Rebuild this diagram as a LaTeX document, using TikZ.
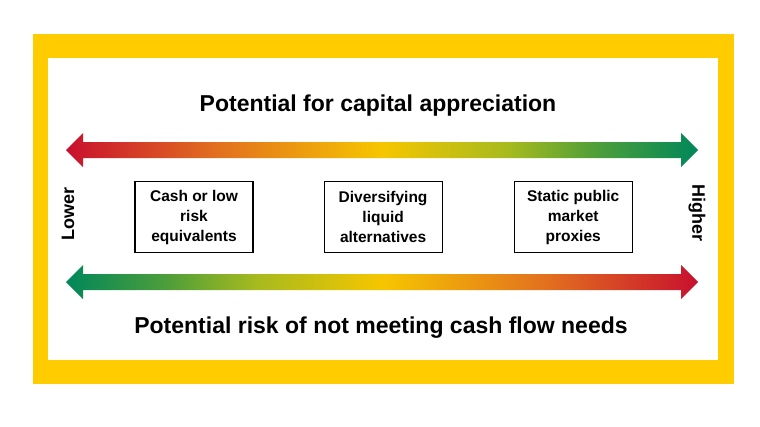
\documentclass[tikz,border=0pt]{standalone}
\usepackage{fontspec}
\setmainfont{Liberation Sans}
\usepackage{xcolor}
\usetikzlibrary{positioning,calc}

\definecolor{framegold}{HTML}{FFCC00}
\definecolor{arrred}{HTML}{C8102E}
\definecolor{arrorange}{HTML}{E2701F}
\definecolor{arryellow}{HTML}{F6C600}
\definecolor{arrolive}{HTML}{A6BA1E}
\definecolor{arrgreen}{HTML}{4E9E3A}
\definecolor{arrteal}{HTML}{00875A}

% gradients run over 25bp--75bp of the shading
\pgfdeclarehorizontalshading{gaingrad}{100bp}{color(0bp)=(arrred); color(25bp)=(arrred);
  color(37bp)=(arrorange); color(50bp)=(arryellow); color(60bp)=(arrolive);
  color(67bp)=(arrgreen); color(75bp)=(arrteal); color(100bp)=(arrteal)}
\pgfdeclarehorizontalshading{riskgrad}{100bp}{color(0bp)=(arrteal); color(25bp)=(arrteal);
  color(33bp)=(arrgreen); color(40bp)=(arrolive); color(50bp)=(arryellow);
  color(63bp)=(arrorange); color(75bp)=(arrred); color(100bp)=(arrred)}

\begin{document}
\begin{tikzpicture}[x=1pt, y=-1pt,
  option/.style={rectangle, draw=black, line width=1.1pt, minimum width=118pt,
    minimum height=71pt, inner sep=0pt, align=center,
    font=\fontsize{15.5}{20}\selectfont\bfseries},
  heading/.style={font=\fontsize{23}{28}\selectfont\bfseries},
  endlabel/.style={font=\fontsize{18}{22}\selectfont\bfseries},
]
\useasboundingbox (0,0) rectangle (760,426);

% frame
\fill[framegold] (33,34) rectangle (734,384);
\fill[white] (48,58) rectangle (718,360);

% block arrows
\shade[shading=gaingrad] (66,150) -- (83,133) -- (83,142) -- (681,142) -- (681,133)
  -- (698,150) -- (681,167) -- (681,158) -- (83,158) -- (83,167) -- cycle;
\shade[shading=riskgrad] (66,282) -- (83,265) -- (83,274) -- (681,274) -- (681,265)
  -- (698,282) -- (681,299) -- (681,290) -- (83,290) -- (83,299) -- cycle;

\node[heading] (gain) at (378,106) {Potential for capital appreciation};
\node[heading] (risk) at (381,328) {Potential risk of not meeting cash flow needs};

\node[option] (cash) at (194,217) {Cash or low\\risk\\equivalents};
\node[option, right=70pt of cash] (liquid) {Diversifying\\liquid\\alternatives};
\node[option, right=71pt of liquid] (proxy) {Static public\\market\\proxies};

\node[endlabel, rotate=90] (lower) at (68,214) {Lower};
\node[endlabel, rotate=-90] (higher) at (697,213) {Higher};
\end{tikzpicture}
\end{document}
